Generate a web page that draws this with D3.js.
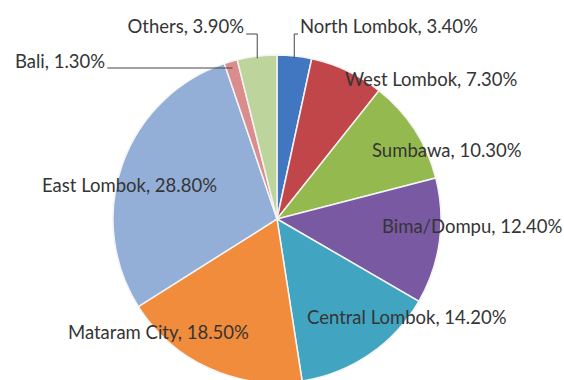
<!DOCTYPE html>
<html>
<head>
<meta charset="utf-8">
<script src="https://cdn.jsdelivr.net/npm/d3@7"></script>
<style>
  html, body { margin: 0; padding: 0; background: #fff; }
  svg text { font-family: Lato, "Open Sans", sans-serif; font-size: 18.5px; fill: #353535; }
</style>
</head>
<body>
<div id="chart"></div>
<script>
// data, clockwise from 12 o'clock
const categories = ['North Lombok', 'West Lombok', 'Sumbawa', 'Bima/Dompu', 'Central Lombok',
  'Mataram City', 'East Lombok', 'Bali', 'Others'];
const shares = [3.4, 7.3, 10.3, 12.4, 14.2, 18.5, 28.8, 1.3, 3.9];
const colors = ['#4077c0', '#c0464a', '#94b94f', '#7a59a3', '#41a5c2',
  '#f08c3c', '#93afd8', '#da8d8c', '#bdd59c'];

// label placement (text baseline), leader = how the label is tied to its slice
const labelLayout = [
  { x: 300, y: 33, anchor: 'start', leader: 'up' },
  { x: 345, y: 86, anchor: 'start' },
  { x: 372, y: 157, anchor: 'start' },
  { x: 382, y: 233, anchor: 'start' },
  { x: 307, y: 324, anchor: 'start' },
  { x: 68, y: 339, anchor: 'start' },
  { x: 42, y: 192, anchor: 'start' },
  { x: 15, y: 68, anchor: 'start', leader: 'side' },
  { x: 244, y: 33, anchor: 'end', leader: 'up' }
];

const width = 564, height = 380;
const cx = 277, cy = 219, radius = 164;

const data = categories.map((c, i) => ({ category: c, value: shares[i], color: colors[i], lab: labelLayout[i] }));

const pie = d3.pie().sort(null).value(d => d.value);
const arc = d3.arc().innerRadius(0).outerRadius(radius);
const arcs = pie(data);

const svg = d3.select('#chart')
  .append('svg')
  .attr('width', width)
  .attr('height', height);

const g = svg.append('g')
  .attr('transform', `translate(${cx},${cy})`);

g.selectAll('.slice')
  .data(arcs)
  .enter().append('path')
  .attr('class', 'slice')
  .attr('d', arc)
  .attr('fill', d => d.data.color)
  .attr('stroke', '#f4f4f4')
  .attr('stroke-width', 1.5);

const labels = svg.selectAll('.label')
  .data(arcs)
  .enter().append('text')
  .attr('class', 'label')
  .attr('x', d => d.data.lab.x)
  .attr('y', d => d.data.lab.y)
  .attr('text-anchor', d => d.data.lab.anchor)
  .text(d => `${d.data.category}, ${d.data.value.toFixed(2)}%`);

// point on the rim at a slice's mid angle
function rimPoint(d, r) {
  const a = (d.startAngle + d.endAngle) / 2;
  return [cx + r * Math.sin(a), cy - r * Math.cos(a)];
}

// leader lines, drawn from the end of the label text to the slice
labels.filter(d => d.data.lab.leader).each(function(d) {
  const lab = d.data.lab;
  const bb = this.getBBox();
  let pts;
  if (lab.leader === 'up') {
    const p = rimPoint(d, radius - 2);
    const ex = lab.anchor === 'end' ? bb.x + bb.width + 2 : bb.x - 2;
    pts = [[ex, lab.y + 1], [p[0], lab.y + 1], p];
  } else {
    const p = rimPoint(d, radius - 6);
    pts = [[bb.x + bb.width + 2, lab.y], [p[0], lab.y]];
  }
  svg.insert('path', '.label')
    .attr('d', d3.line()(pts))
    .attr('fill', 'none')
    .attr('stroke', '#444')
    .attr('stroke-width', 1);
});
</script>
</body>
</html>
